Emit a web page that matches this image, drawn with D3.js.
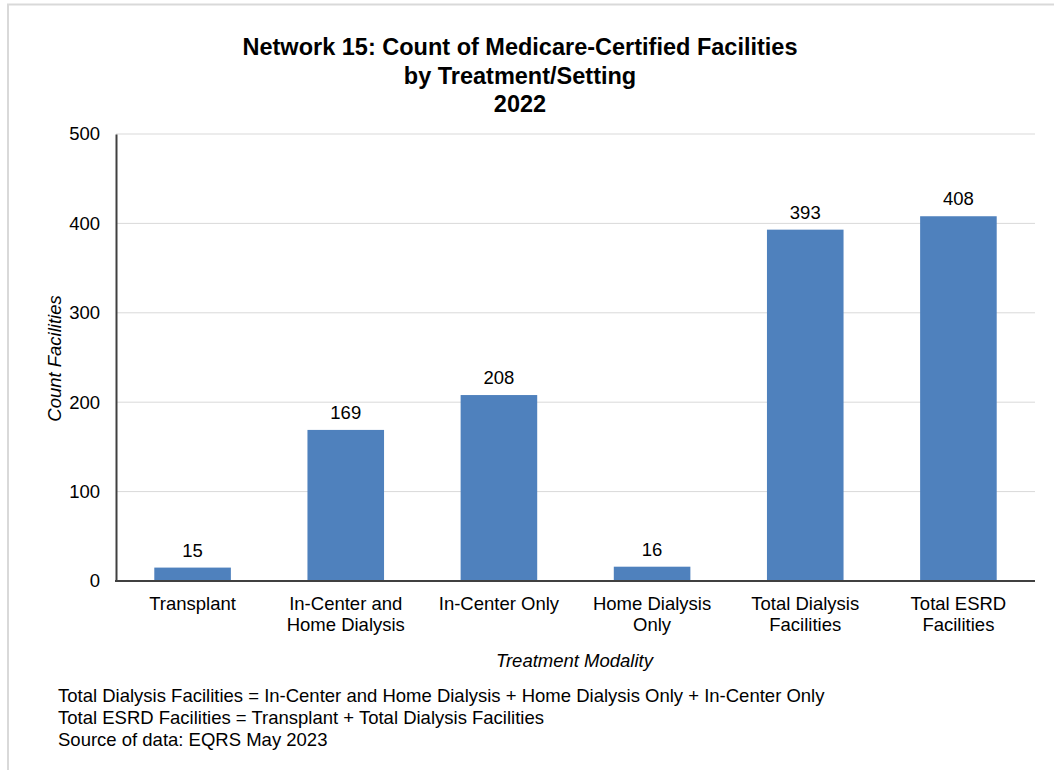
<!DOCTYPE html>
<html>
<head>
<meta charset="utf-8">
<script src="https://cdn.jsdelivr.net/npm/d3@7"></script>
<style>
  html, body { margin: 0; padding: 0; background: #fff; }
  svg { display: block; font-family: "Liberation Sans", Arial, sans-serif; }
</style>
</head>
<body>
<svg id="chart" width="1054" height="770"></svg>
<script>
// Facility counts by treatment/setting, 2022
const categories = [
  ["Transplant"],
  ["In-Center and", "Home Dialysis"],
  ["In-Center Only"],
  ["Home Dialysis", "Only"],
  ["Total Dialysis", "Facilities"],
  ["Total ESRD", "Facilities"]
];
const counts = [15, 169, 208, 16, 393, 408];
const yTicks = [0, 100, 200, 300, 400, 500];
const titleLines = [
  "Network 15: Count of Medicare-Certified Facilities",
  "by Treatment/Setting",
  "2022"
];
const footnotes = [
  "Total Dialysis Facilities = In-Center and Home Dialysis + Home Dialysis Only + In-Center Only",
  "Total ESRD Facilities = Transplant + Total Dialysis Facilities",
  "Source of data: EQRS May 2023"
];

const svg = d3.select("#chart");
const keys = categories.map(c => c.join(" "));
const FS = 18.5;

const plot = { left: 116, right: 1035, top: 134, bottom: 581 };

// frame around the chart object
svg.append("path")
  .attr("d", `M8,770 L8,4.5 L1054,4.5`)
  .attr("fill", "none")
  .attr("stroke", "#d9d9d9")
  .attr("stroke-width", 2);

const x = d3.scaleBand()
  .domain(keys)
  .range([plot.left, plot.right])
  .paddingInner(0.5)
  .paddingOuter(0.25);

const y = d3.scaleLinear()
  .domain([0, 500])
  .range([plot.bottom, plot.top]);

// horizontal gridlines
svg.append("g")
  .selectAll("line")
  .data(yTicks.filter(t => t > 0))
  .join("line")
  .attr("x1", plot.left)
  .attr("x2", plot.right)
  .attr("y1", d => y(d))
  .attr("y2", d => y(d))
  .attr("stroke", "#d9d9d9")
  .attr("stroke-width", 1);

// bars
svg.append("g")
  .selectAll("rect")
  .data(counts)
  .join("rect")
  .attr("x", (d, i) => x(keys[i]))
  .attr("y", d => y(d))
  .attr("width", x.bandwidth())
  .attr("height", d => y(0) - y(d))
  .attr("fill", "#4f81bd");

// value labels
svg.append("g")
  .selectAll("text")
  .data(counts)
  .join("text")
  .attr("x", (d, i) => x(keys[i]) + x.bandwidth() / 2)
  .attr("y", d => y(d) - 11)
  .attr("text-anchor", "middle")
  .attr("font-size", FS)
  .attr("fill", "#000")
  .text(d => d);

// y axis
const yAxis = d3.axisLeft(y).tickValues(yTicks).tickSize(0).tickPadding(16);
const gy = svg.append("g")
  .attr("transform", `translate(${plot.left},0)`)
  .call(yAxis);
gy.select(".domain").attr("stroke", "#404040").attr("stroke-width", 2);
gy.selectAll("text").attr("font-size", FS).attr("fill", "#000")
  .attr("font-family", "Liberation Sans, Arial, sans-serif");

// x axis
const xAxis = d3.axisBottom(x).tickSize(0).tickFormat(() => "");
const gx = svg.append("g")
  .attr("transform", `translate(0,${plot.bottom})`)
  .call(xAxis);
gx.select(".domain").attr("stroke", "#404040").attr("stroke-width", 2)
  .attr("d", `M${plot.left - 1},0H${plot.right}`);

// category labels (wrapped)
const catLabels = svg.append("g")
  .selectAll("text")
  .data(categories)
  .join("text")
  .attr("x", (d, i) => x(keys[i]) + x.bandwidth() / 2)
  .attr("y", 610)
  .attr("text-anchor", "middle")
  .attr("font-size", FS)
  .attr("fill", "#000");
catLabels.selectAll("tspan")
  .data(d => d)
  .join("tspan")
  .attr("x", function () { return d3.select(this.parentNode).attr("x"); })
  .attr("dy", (d, i) => i === 0 ? 0 : 21)
  .text(d => d);

// axis titles
svg.append("text")
  .attr("x", (plot.left + plot.right) / 2 - 1)
  .attr("y", 667)
  .attr("text-anchor", "middle")
  .attr("font-size", FS)
  .attr("font-style", "italic")
  .text("Treatment Modality");

svg.append("text")
  .attr("transform", `translate(61,${(plot.top + plot.bottom) / 2 + 1}) rotate(-90)`)
  .attr("text-anchor", "middle")
  .attr("font-size", FS)
  .attr("font-style", "italic")
  .text("Count Facilities");

// title
svg.append("g")
  .selectAll("text")
  .data(titleLines)
  .join("text")
  .attr("x", 520)
  .attr("y", (d, i) => 55 + i * 28.5)
  .attr("text-anchor", "middle")
  .attr("font-size", 23.5)
  .attr("font-weight", "bold")
  .text(d => d);

// footnotes
svg.append("g")
  .selectAll("text")
  .data(footnotes)
  .join("text")
  .attr("x", 58)
  .attr("y", (d, i) => 702 + i * 22)
  .attr("font-size", FS)
  .text(d => d);
</script>
</body>
</html>
